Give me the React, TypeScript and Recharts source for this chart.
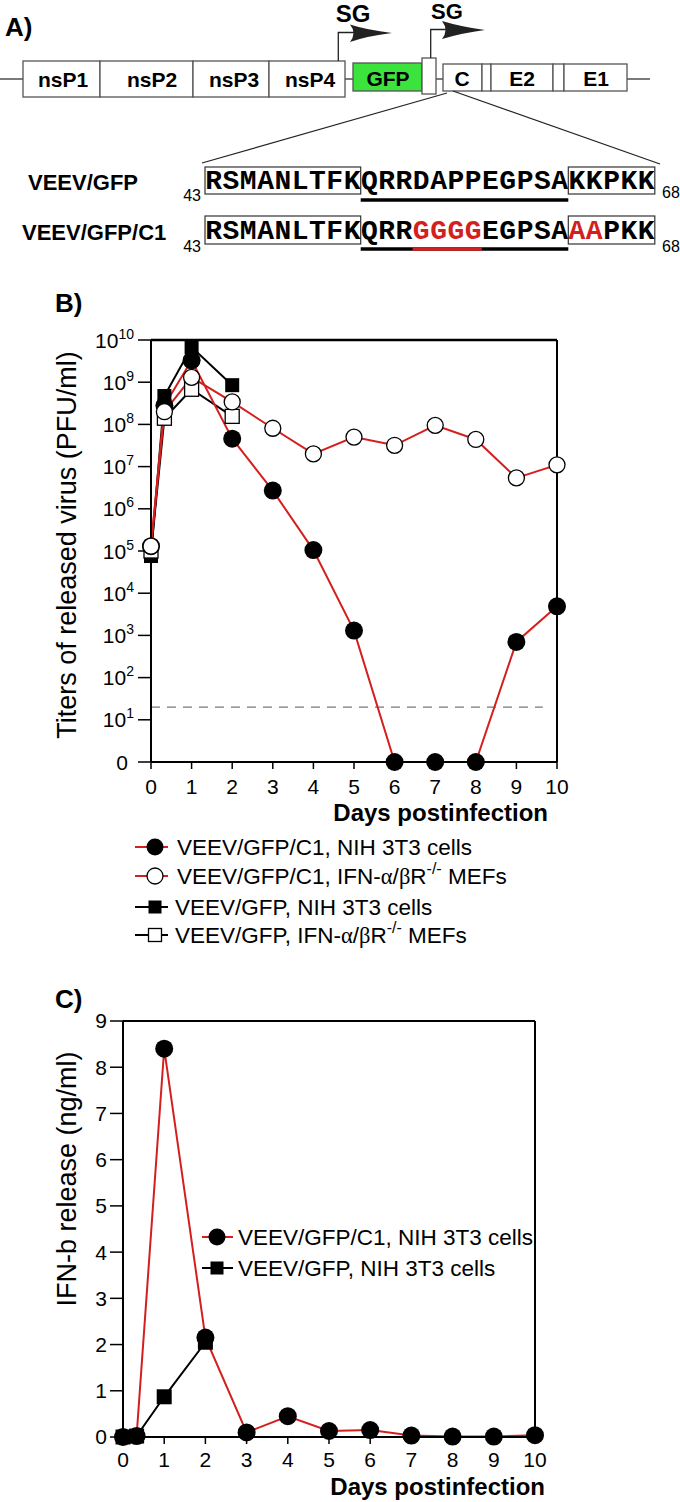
import React from "react";
import { LineChart, Line, XAxis, YAxis, ReferenceLine } from "recharts";

// panel B: titers (PFU/ml)
const daysLong = [0, 0.33, 1, 2, 3, 4, 5, 6, 7, 8, 9, 10];
const daysShort = [0, 0.33, 1, 2];
const c1NihTiter = [1.3e5, 2.8e8, 3.3e9, 4.6e7, 2.7e6, 1.05e5, 1.3e3, 0, 0, 0, 7e2, 4.9e3];
const c1MefTiter = [1.3e5, 2e8, 1.3e9, 3.4e8, 8.1e7, 2e7, 5e7, 3.2e7, 9.5e7, 4.4e7, 5.4e6, 1.1e7];
const gfpNihTiter = [7.6e4, 4.7e8, 6.8e9, 8.5e8];
const gfpMefTiter = [1e5, 1.4e8, 6.8e8, 1.55e8];
const detectionLimit = 20;
const titerTicks = [0, 1, 2, 3, 4, 5, 6, 7, 8, 9, 10];
const dayTicks = [0, 1, 2, 3, 4, 5, 6, 7, 8, 9, 10];

// panel C: IFN-b (ng/ml)
const ifnC1Nih = [0, 0.02, 8.4, 2.15, 0.1, 0.45, 0.13, 0.15, 0.03, 0.01, 0.01, 0.04];
const ifnGfpNih = [0, 0.02, 0.87, 2.05];
const ifnTicks = [0, 1, 2, 3, 4, 5, 6, 7, 8, 9];

// panel A sequences
const seqWild = "RSMANLTFKQRRDAPPEGPSAKKPKK";
const seqC1 = "RSMANLTFKQRRGGGGEGPSAAAPKK";
const c1Mutated = [12, 13, 14, 15, 21, 22];

const RED = "#d41f1f";
const FONT = "Liberation Sans, Arial, sans-serif";

const toLog = (v: number) => (v > 0 ? Math.log10(v) : 0);
const build = (days: number[], vals: number[], f = (v: number) => v) =>
  days.map((d, i) => ({ day: d, v: f(vals[i]) }));

const c1NihData = build(daysLong, c1NihTiter, toLog);
const c1MefData = build(daysLong, c1MefTiter, toLog);
const gfpNihData = build(daysShort, gfpNihTiter, toLog);
const gfpMefData = build(daysShort, gfpMefTiter, toLog);
const ifnC1Data = build(daysLong, ifnC1Nih);
const ifnGfpData = build(daysShort, ifnGfpNih);

const dot = (kind: string, size: number) => (p: any) => {
  const k = `${kind}-${p.index}`;
  if (p.cx == null || p.cy == null) return <g key={k} />;
  if (kind === "fc") return <circle key={k} cx={p.cx} cy={p.cy} r={size} fill="#000" />;
  if (kind === "oc")
    return <circle key={k} cx={p.cx} cy={p.cy} r={size} fill="#fff" stroke="#000" strokeWidth={1.3} />;
  if (kind === "fs")
    return <rect key={k} x={p.cx - size} y={p.cy - size} width={size * 2} height={size * 2} fill="#000" />;
  return (
    <rect key={k} x={p.cx - size} y={p.cy - size} width={size * 2} height={size * 2}
      fill="#fff" stroke="#000" strokeWidth={1.3} />
  );
};

const PowTick = (props: any) => {
  const { x, y, payload } = props;
  if (payload.value === 0)
    return <text x={x - 6} y={y + 7.5} textAnchor="end" fontSize={21} fontFamily={FONT}>0</text>;
  return (
    <text x={x} y={y + 7.5} textAnchor="end" fontSize={21} fontFamily={FONT}>
      10<tspan dy={-9} fontSize={14}>{payload.value}</tspan>
    </text>
  );
};

function Marker({ kind, x, y }: { kind: string; x: number; y: number }) {
  if (kind === "fc") return <circle cx={x} cy={y} r={8.5} fill="#000" />;
  if (kind === "oc") return <circle cx={x} cy={y} r={8} fill="#fff" stroke="#000" strokeWidth={1.3} />;
  if (kind === "fs") return <rect x={x - 6.5} y={y - 6.5} width={13} height={13} fill="#000" />;
  return <rect x={x - 6.5} y={y - 6.5} width={13} height={13} fill="#fff" stroke="#000" strokeWidth={1.3} />;
}

function LegendRow(props: {
  x: number; y: number; kind: string; color: string; left: number; right: number; tx: number;
  children: React.ReactNode;
}) {
  const { x, y, kind, color, left, right, tx, children } = props;
  return (
    <g>
      <line x1={x - left} x2={x + right} y1={y} y2={y} stroke={color} strokeWidth={2} />
      <Marker kind={kind} x={x} y={y} />
      <text x={tx} y={y + 8} fontSize={22.5} fontFamily={FONT}>{children}</text>
    </g>
  );
}

const mefLabel = (base: string) => (
  <>
    {base}IFN-<tspan fontFamily="Liberation Serif, serif">α</tspan>/
    <tspan fontFamily="Liberation Serif, serif">β</tspan>R
    <tspan dy={-10} fontSize={16}>-/-</tspan>
    <tspan dy={10}> MEFs</tspan>
  </>
);

function SeqRow({ seq, baseline, boxTop, boxBottom, red, underY }: {
  seq: string; baseline: number; boxTop: number; boxBottom: number; red: number[]; underY: number;
}) {
  const x0 = 205;
  const cw = 17.3;
  const at = (i: number) => x0 + i * cw;
  return (
    <g>
      <rect x={at(0)} y={boxTop} width={9 * cw} height={boxBottom - boxTop} fill="none" stroke="#333" strokeWidth={1.2} />
      <rect x={at(21)} y={boxTop} width={5 * cw} height={boxBottom - boxTop} fill="none" stroke="#333" strokeWidth={1.2} />
      {seq.split("").map((ch, i) => (
        <text key={i} x={at(i) + cw / 2} y={baseline} textAnchor="middle" fontSize={28}
          fontWeight="bold" fontFamily="Liberation Mono, Courier New, monospace"
          fill={red.includes(i) ? RED : "#000"}>
          {ch}
        </text>
      ))}
      <line x1={at(9)} x2={at(21)} y1={underY} y2={underY} stroke="#000" strokeWidth={3.5} />
      {red.includes(12) && (
        <line x1={at(12)} x2={at(16)} y1={underY} y2={underY} stroke={RED} strokeWidth={3.5} />
      )}
    </g>
  );
}

function PanelA() {
  const boxes = [
    { x1: 23, x2: 100, label: "nsP1", cx: 63 },
    { x1: 100, x2: 193, label: "nsP2", cx: 152 },
    { x1: 193, x2: 269, label: "nsP3", cx: 234 },
    { x1: 269, x2: 345, label: "nsP4", cx: 310 },
  ];
  const sp = [
    { x1: 443, x2: 482, label: "C", cx: 462 },
    { x1: 482, x2: 491, label: "", cx: 0 },
    { x1: 491, x2: 553, label: "E2", cx: 522 },
    { x1: 553, x2: 564, label: "", cx: 0 },
    { x1: 564, x2: 627, label: "E1", cx: 596 },
  ];
  return (
    <g fontFamily={FONT}>
      <text x={5} y={36} fontSize={26} fontWeight="bold">A)</text>
      <line x1={0} x2={23} y1={79} y2={79} stroke="#333" strokeWidth={1.3} />
      <line x1={345} x2={353} y1={79} y2={79} stroke="#333" strokeWidth={1.3} />
      <line x1={436} x2={443} y1={79} y2={79} stroke="#333" strokeWidth={1.3} />
      <line x1={627} x2={650} y1={79} y2={79} stroke="#333" strokeWidth={1.3} />
      {boxes.map((b) => (
        <g key={b.label}>
          <rect x={b.x1} y={61} width={b.x2 - b.x1} height={36} fill="#fff" stroke="#555" strokeWidth={1.3} />
          <text x={b.cx} y={87} textAnchor="middle" fontSize={21} fontWeight="bold">{b.label}</text>
        </g>
      ))}
      <rect x={353} y={63} width={69} height={28} fill="#3ce33c" stroke="#555" strokeWidth={1.3} />
      <text x={388} y={86} textAnchor="middle" fontSize={21} fontWeight="bold">GFP</text>
      <rect x={422} y={58} width={14} height={36} fill="#fff" stroke="#555" strokeWidth={1.3} />
      {sp.map((b, i) => (
        <g key={i}>
          <rect x={b.x1} y={64} width={b.x2 - b.x1} height={27} fill="#fff" stroke="#555" strokeWidth={1.3} />
          {b.label && (
            <text x={b.cx} y={86} textAnchor="middle" fontSize={21} fontWeight="bold">{b.label}</text>
          )}
        </g>
      ))}
      {/* subgenomic promoters */}
      <path d="M338.3,61 V32.5 H356" fill="none" stroke="#222" strokeWidth={1.3} />
      <path d="M350,24.5 Q367,30 392,33 Q367,36 350,42 Q357,33 350,24.5 Z" fill="#222" />
      <text x={353} y={22} textAnchor="middle" fontSize={24} fontWeight="bold">SG</text>
      <path d="M430.7,58 V29.5 H448" fill="none" stroke="#222" strokeWidth={1.3} />
      <path d="M442,21 Q462,27 485,30 Q462,33 442,39 Q449,30 442,21 Z" fill="#222" />
      <text x={447} y={19} textAnchor="middle" fontSize={22} fontWeight="bold">SG</text>
      <line x1={447} y1={93} x2={202} y2={163} stroke="#222" strokeWidth={1.3} />
      <line x1={453} y1={91} x2={660} y2={164} stroke="#222" strokeWidth={1.3} />

      <text x={28} y={190} fontSize={22} fontWeight="bold">VEEV/GFP</text>
      <text x={22} y={240} fontSize={22} fontWeight="bold">VEEV/GFP/C1</text>
      <text x={201} y={201} textAnchor="end" fontSize={16}>43</text>
      <text x={201} y={252} textAnchor="end" fontSize={16}>43</text>
      <text x={662} y={198} fontSize={16}>68</text>
      <text x={662} y={252} fontSize={16}>68</text>
      <SeqRow seq={seqWild} baseline={189} boxTop={167} boxBottom={194} red={[]} underY={200} />
      <SeqRow seq={seqC1} baseline={239} boxTop={216} boxBottom={244} red={c1Mutated} underY={249} />
    </g>
  );
}

export default function App() {
  return (
    <div style={{ position: "relative", width: 680, height: 1502, background: "#fff", fontFamily: FONT }}>
      <style>{"body{margin:0}"}</style>

      <div style={{ position: "absolute", left: 0, top: 290 }}>
        <LineChart width={680} height={512} margin={{ top: 50, right: 123, bottom: 0, left: 0 }}>
          <XAxis type="number" dataKey="day" domain={[0, 10]} ticks={dayTicks} height={40}
            axisLine={{ stroke: "#000", strokeWidth: 2 }} tickLine={{ stroke: "#000", strokeWidth: 1.5 }}
            tickSize={7} tickMargin={10} tick={{ fill: "#000", fontSize: 21, fontFamily: FONT }} />
          <YAxis type="number" domain={[0, 10]} ticks={titerTicks} width={151} interval={0}
            axisLine={{ stroke: "#000", strokeWidth: 2 }} tickLine={{ stroke: "#000", strokeWidth: 1.5 }}
            tickSize={13} tickMargin={4} tick={<PowTick />} />
          <ReferenceLine y={10} stroke="#000" strokeWidth={2.5} />
          <ReferenceLine x={10} stroke="#000" strokeWidth={2} />
          <ReferenceLine
            segment={[{ x: 0, y: Math.log10(detectionLimit) }, { x: 9.65, y: Math.log10(detectionLimit) }]}
            stroke="#555" strokeWidth={1} strokeDasharray="9 7" />
          <Line data={gfpNihData} dataKey="v" stroke="#000" strokeWidth={2} dot={dot("fs", 7)}
            activeDot={false} isAnimationActive={false} />
          <Line data={gfpMefData} dataKey="v" stroke="#000" strokeWidth={2} dot={dot("os", 7)}
            activeDot={false} isAnimationActive={false} />
          <Line data={c1NihData} dataKey="v" stroke={RED} strokeWidth={2} dot={dot("fc", 9)}
            activeDot={false} isAnimationActive={false} />
          <Line data={c1MefData} dataKey="v" stroke={RED} strokeWidth={2} dot={dot("oc", 8)}
            activeDot={false} isAnimationActive={false} />
        </LineChart>
      </div>

      <div style={{ position: "absolute", left: 0, top: 940 }}>
        <LineChart width={680} height={537} margin={{ top: 81, right: 145, bottom: 0, left: 0 }}>
          <XAxis type="number" dataKey="day" domain={[0, 10]} ticks={dayTicks} height={40}
            axisLine={{ stroke: "#000", strokeWidth: 2 }} tickLine={{ stroke: "#000", strokeWidth: 1.5 }}
            tickSize={7} tickMargin={8} tick={{ fill: "#000", fontSize: 21, fontFamily: FONT }} />
          <YAxis type="number" domain={[0, 9]} ticks={ifnTicks} width={123} interval={0}
            axisLine={{ stroke: "#000", strokeWidth: 2 }} tickLine={{ stroke: "#000", strokeWidth: 1.5 }}
            tickSize={13} tickMargin={3} tick={{ fill: "#000", fontSize: 21, fontFamily: FONT }} />
          <ReferenceLine y={9} stroke="#000" strokeWidth={2} />
          <ReferenceLine x={10} stroke="#000" strokeWidth={2} />
          <Line data={ifnC1Data} dataKey="v" stroke={RED} strokeWidth={2} dot={dot("fc", 9)}
            activeDot={false} isAnimationActive={false} />
          <Line data={ifnGfpData} dataKey="v" stroke="#000" strokeWidth={2} dot={dot("fs", 7.5)}
            activeDot={false} isAnimationActive={false} />
        </LineChart>
      </div>

      <svg width={680} height={1502} style={{ position: "absolute", left: 0, top: 0, pointerEvents: "none" }}>
        <PanelA />
        <g fontFamily={FONT}>
          <text x={55} y={312} fontSize={26} fontWeight="bold">B)</text>
          <text transform="translate(76,545) rotate(-90)" textAnchor="middle" fontSize={27}>
            Titers of released virus (PFU/ml)
          </text>
          <text x={548} y={821} textAnchor="end" fontSize={24} fontWeight="bold">Days postinfection</text>
          <LegendRow x={155} y={847} kind="fc" color={RED} left={20} right={13} tx={177}>
            VEEV/GFP/C1, NIH 3T3 cells
          </LegendRow>
          <LegendRow x={155} y={876} kind="oc" color={RED} left={20} right={13} tx={177}>
            {mefLabel("VEEV/GFP/C1, ")}
          </LegendRow>
          <LegendRow x={155} y={907} kind="fs" color="#000" left={20} right={13} tx={175}>
            VEEV/GFP, NIH 3T3 cells
          </LegendRow>
          <LegendRow x={155} y={935} kind="os" color="#000" left={20} right={13} tx={175}>
            {mefLabel("VEEV/GFP, ")}
          </LegendRow>

          <text x={55} y={1008} fontSize={26} fontWeight="bold">C)</text>
          <text transform="translate(76,1179) rotate(-90)" textAnchor="middle" fontSize={27}>
            IFN-b release (ng/ml)
          </text>
          <text x={545} y={1495} textAnchor="end" fontSize={24} fontWeight="bold">Days postinfection</text>
          <LegendRow x={217} y={1237} kind="fc" color={RED} left={15} right={16} tx={238}>
            VEEV/GFP/C1, NIH 3T3 cells
          </LegendRow>
          <LegendRow x={217} y={1268} kind="fs" color="#000" left={15} right={16} tx={238}>
            VEEV/GFP, NIH 3T3 cells
          </LegendRow>
        </g>
      </svg>
    </div>
  );
}
